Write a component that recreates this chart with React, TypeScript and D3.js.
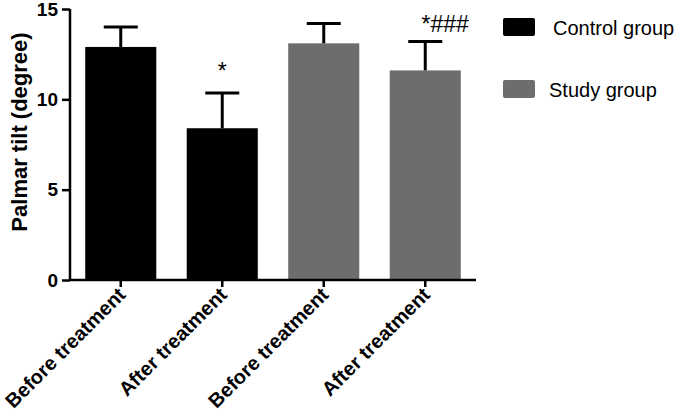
import { useRef, useEffect } from "react";
import * as d3 from "d3";

const categories = ["Before treatment", "After treatment", "Before treatment ", "After treatment "];
const groups = ["Control group", "Control group", "Study group", "Study group"];
const means = [12.9, 8.4, 13.1, 11.6];
const errors = [1.1, 1.95, 1.1, 1.6];
const marks = ["", "*", "", "*###"];
const legendItems = ["Control group", "Study group"];
const yTicks = [0, 5, 10, 15];

const colors: Record<string, string> = { "Control group": "#000000", "Study group": "#6d6d6d" };

const width = 681;
const height = 419;
const marginLeft = 70;
const marginTop = 9;
const plotRight = 476;
const plotBottom = 280;
const font = "Liberation Sans, Arial, sans-serif";

export default function App() {
  const ref = useRef<SVGSVGElement>(null);

  useEffect(() => {
    const svg = d3.select(ref.current).select(".chart-area");
    svg.selectAll("*").remove();

    const xScale = d3.scaleBand()
      .domain(categories)
      .range([marginLeft, plotRight])
      .paddingInner(0.3)
      .paddingOuter(0.15);

    const yScale = d3.scaleLinear()
      .domain([0, 15])
      .range([plotBottom, marginTop]);

    svg.selectAll(".bar")
      .data(categories)
      .join("rect")
      .attr("class", "bar")
      .attr("x", (d) => xScale(d)!)
      .attr("y", (d, i) => yScale(means[i]))
      .attr("width", xScale.bandwidth())
      .attr("height", (d, i) => yScale(0) - yScale(means[i]))
      .attr("fill", (d, i) => colors[groups[i]]);

    const err = svg.selectAll(".err")
      .data(categories)
      .join("g")
      .attr("class", "err")
      .attr("stroke", "#000")
      .attr("stroke-width", 3);
    err.append("line")
      .attr("x1", (d) => xScale(d)! + xScale.bandwidth() / 2)
      .attr("x2", (d) => xScale(d)! + xScale.bandwidth() / 2)
      .attr("y1", (d, i) => yScale(means[i]))
      .attr("y2", (d, i) => yScale(means[i] + errors[i]));
    err.append("line")
      .attr("x1", (d) => xScale(d)! + xScale.bandwidth() / 2 - 17)
      .attr("x2", (d) => xScale(d)! + xScale.bandwidth() / 2 + 17)
      .attr("y1", (d, i) => yScale(means[i] + errors[i]))
      .attr("y2", (d, i) => yScale(means[i] + errors[i]));

    svg.selectAll(".mark")
      .data(categories)
      .join("text")
      .attr("class", "mark")
      .attr("x", (d, i) => xScale(d)! + xScale.bandwidth() / 2 + (i === 3 ? 20 : 0))
      .attr("y", (d, i) => yScale(means[i] + errors[i]) - (i === 3 ? 10 : 14))
      .attr("text-anchor", "middle")
      .attr("font-family", font)
      .attr("font-size", 23)
      .text((d, i) => marks[i]);

    const xAxis = d3.axisBottom(xScale).tickSize(7).tickFormat(() => "");
    const yAxis = d3.axisLeft(yScale).tickValues(yTicks).tickSize(8).tickPadding(4);

    const gx = svg.append("g")
      .attr("transform", `translate(0,${plotBottom})`)
      .call(xAxis);
    gx.select(".domain").attr("d", `M${marginLeft},0H${plotRight}`);
    gx.selectAll("line").attr("stroke-width", 2.5);
    gx.select(".domain").attr("stroke-width", 2.5);

    const gy = svg.append("g")
      .attr("transform", `translate(${marginLeft},0)`)
      .call(yAxis);
    gy.select(".domain").attr("d", `M0,${marginTop}V${plotBottom}`).attr("stroke-width", 2.5);
    gy.selectAll("line").attr("stroke-width", 2.5);
    gy.selectAll("text")
      .attr("font-family", font)
      .attr("font-size", 19)
      .attr("font-weight", "bold")
      .attr("fill", "#000");

    svg.selectAll(".xlabel")
      .data(categories)
      .join("text")
      .attr("class", "xlabel")
      .attr("transform", (d) => `translate(${xScale(d)! + xScale.bandwidth() / 2 + 6},${plotBottom + 16}) rotate(-45)`)
      .attr("text-anchor", "end")
      .attr("font-family", font)
      .attr("font-size", 20)
      .attr("font-weight", "bold")
      .text((d) => d.trim());

    svg.append("text")
      .attr("transform", `translate(27,132) rotate(-90)`)
      .attr("text-anchor", "middle")
      .attr("font-family", font)
      .attr("font-size", 22)
      .attr("font-weight", "bold")
      .text("Palmar tilt (degree)");

    const legend = svg.selectAll(".legend")
      .data(legendItems)
      .join("g")
      .attr("class", "legend")
      .attr("transform", (d, i) => `translate(503,${18 + i * 62})`);
    legend.append("rect")
      .attr("width", 32)
      .attr("height", 18)
      .attr("rx", 2)
      .attr("fill", (d) => colors[d]);
    legend.append("text")
      .attr("x", (d, i) => (i === 0 ? 50 : 46))
      .attr("y", 17)
      .attr("font-family", font)
      .attr("font-size", 20)
      .text((d) => d);
  }, []);

  return (
    <svg ref={ref} width={width} height={height} style={{ position: "absolute", left: 0, top: 0, background: "white" }}>
      <g className="chart-area" />
    </svg>
  );
}
